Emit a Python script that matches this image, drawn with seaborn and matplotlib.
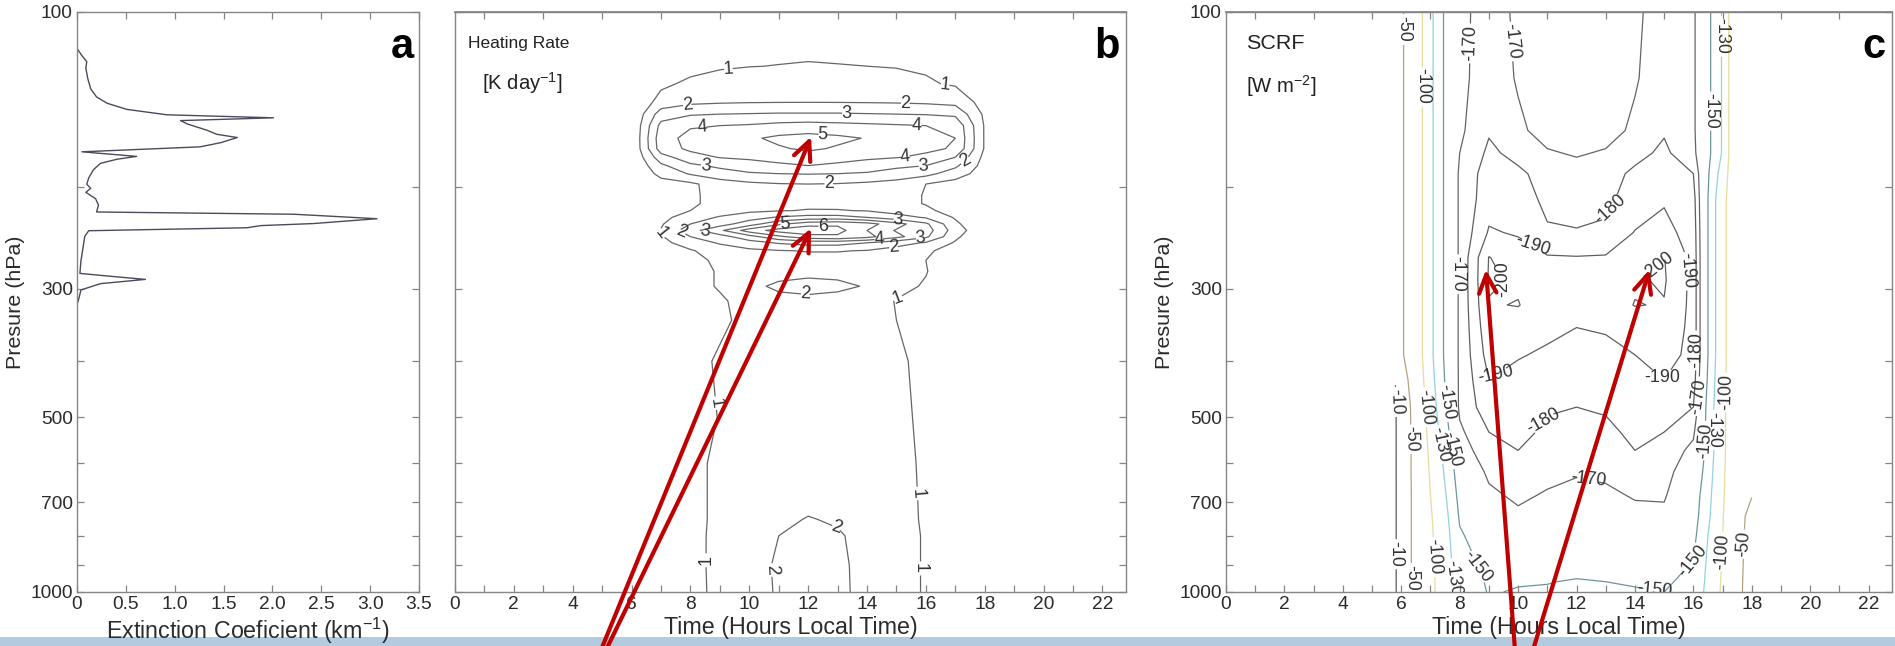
import numpy as np
import pandas as pd
import matplotlib
matplotlib.use("Agg")
import matplotlib.pyplot as plt
import seaborn as sns
from matplotlib import font_manager
from matplotlib.ticker import FixedLocator, FixedFormatter, NullLocator
from matplotlib.patches import Rectangle

# ---------------- data ----------------
# panel a: extinction coefficient profile (km^-1) vs pressure (hPa)
EXT_PRES = [115.6, 118.9, 121.8, 124.9, 130.2, 135.6, 140.1, 143.7, 147.2, 150.4,
            152.2, 153.9, 156.0, 159.9, 162.5, 164.6, 168.0, 170.8, 174.2, 177.4,
            179.4, 182.4, 186.9, 193.2, 198.1, 201.4, 204.6, 209.8, 215.2, 221.2,
            223.2, 227.2, 231.6, 233.5, 235.5, 238.3, 243.5, 255.9, 268.8, 282.3,
            285.5, 289.1, 294.0, 301.5, 311.6, 319.6]
EXT_VALS = [0.00, 0.05, 0.10, 0.09, 0.11, 0.14, 0.20, 0.31, 0.51, 0.92,
            2.01, 1.06, 1.13, 1.33, 1.43, 1.64, 1.47, 1.26, 0.05, 0.61,
            0.41, 0.24, 0.17, 0.12, 0.10, 0.14, 0.09, 0.19, 0.22, 0.20,
            2.22, 3.07, 2.42, 1.88, 1.74, 0.12, 0.08, 0.06, 0.04, 0.03,
            0.34, 0.70, 0.24, 0.04, 0.02, 0.00]

# panel b: heating rate (K/day), rows = pressure, columns = hour
B_HOURS = [5, 6, 7, 8, 9, 10, 11, 12, 13, 14, 15, 16, 17, 18, 19]
B_PRES = [100, 115, 124, 133, 143, 150, 157, 165, 172, 178, 184, 190, 198, 207, 214,
          220, 226, 232, 238, 244, 250, 258, 268, 280, 297, 315, 340, 400, 500, 600,
          700, 750, 800, 900, 1000]
B_HEAT = [
    [0, 0, 0.1, 0.2, 0.3, 0.4, 0.45, 0.5, 0.45, 0.4, 0.3, 0.2, 0.1, 0, 0],
    [0, 0, 0.3, 0.5, 0.6, 0.7, 0.8, 0.85, 0.8, 0.75, 0.7, 0.6, 0.4, 0.1, 0],
    [0, 0, 0.5, 0.7, 0.9, 0.98, 1.02, 1.05, 1.03, 1.0, 0.95, 0.9, 0.7, 0.2, 0],
    [0, 0, 0.8, 1.2, 1.4, 1.5, 1.55, 1.6, 1.55, 1.5, 1.4, 1.1, 0.9, 0.3, 0],
    [0, 0, 1.4, 1.8, 1.9, 1.95, 1.97, 1.98, 1.97, 1.95, 1.92, 1.85, 1.7, 0.6, 0],
    [0, 0, 2.5, 2.9, 3.0, 3.05, 3.1, 3.1, 3.1, 3.05, 3.0, 2.95, 2.8, 0.8, 0],
    [0, 0, 3.3, 3.9, 4.0, 4.1, 4.3, 4.4, 4.3, 4.2, 4.1, 4.0, 3.8, 0.9, 0],
    [0, 0, 3.6, 4.3, 4.5, 4.85, 5.2, 5.35, 5.2, 4.95, 4.6, 4.4, 4.0, 0.9, 0],
    [0, 0, 3.5, 4.2, 4.4, 4.6, 4.9, 5.15, 4.9, 4.6, 4.4, 4.2, 3.9, 0.9, 0],
    [0, 0, 2.6, 3.6, 4.05, 4.2, 4.4, 4.6, 4.4, 4.2, 4.05, 3.8, 3.0, 0.7, 0],
    [0, 0, 1.8, 2.8, 3.2, 3.5, 3.8, 4.0, 3.8, 3.5, 3.2, 3.0, 2.2, 0.6, 0],
    [0, 0, 1.3, 2.1, 2.6, 2.9, 3.0, 3.05, 3.0, 2.9, 2.6, 2.3, 1.5, 0.5, 0],
    [0, 0, 0.6, 0.8, 1.5, 1.8, 1.95, 2.0, 1.95, 1.8, 1.6, 1.0, 0.6, 0.1, 0],
    [0, 0, 0.4, 0.8, 1.4, 1.6, 1.7, 1.75, 1.7, 1.6, 1.3, 0.95, 0.2, 0, 0],
    [0, 0, 0.4, 0.8, 1.4, 1.6, 1.75, 1.8, 1.75, 1.65, 1.3, 0.95, 0.2, 0, 0],
    [0, 0, 0.4, 1.0, 1.5, 1.8, 1.95, 2.05, 2.05, 1.95, 1.6, 1.2, 0.6, 0, 0],
    [0, 0, 0.7, 1.5, 2.1, 2.6, 3.1, 3.4, 3.4, 3.0, 2.4, 1.9, 0.9, 0.1, 0],
    [0, 0, 0.9, 2.0, 2.6, 3.5, 4.8, 5.6, 5.8, 5.4, 4.4, 3.2, 1.2, 0.1, 0],
    [0, 0, 1.05, 2.6, 3.8, 5.5, 6.4, 6.8, 6.4, 5.0, 3.9, 3.5, 1.5, 0.2, 0],
    [0, 0, 0.9, 2.0, 2.6, 3.6, 4.8, 5.6, 5.8, 5.3, 4.3, 3.2, 1.2, 0.1, 0],
    [0, 0, 0.7, 1.5, 2.1, 2.6, 3.1, 3.4, 3.4, 3.0, 2.4, 1.9, 0.9, 0.1, 0],
    [0, 0, 0.4, 0.9, 1.5, 1.8, 1.95, 2.05, 2.05, 1.95, 1.6, 1.2, 0.5, 0, 0],
    [0, 0, 0.2, 0.7, 1.2, 1.5, 1.6, 1.65, 1.65, 1.6, 1.5, 1.0, 0.3, 0, 0],
    [0, 0, 0.2, 0.6, 1.1, 1.5, 1.7, 1.8, 1.8, 1.7, 1.5, 1.05, 0.3, 0, 0],
    [0, 0, 0.2, 0.6, 1.1, 1.8, 2.15, 2.25, 2.15, 1.95, 1.3, 0.9, 0.3, 0, 0],
    [0, 0, 0.2, 0.6, 0.85, 1.4, 1.75, 1.8, 1.75, 1.5, 0.95, 0.6, 0.2, 0, 0],
    [0, 0, 0.2, 0.5, 0.8, 1.3, 1.5, 1.55, 1.5, 1.35, 1.0, 0.6, 0.2, 0, 0],
    [0, 0, 0.2, 0.6, 1.15, 1.4, 1.5, 1.55, 1.5, 1.4, 1.2, 0.7, 0.2, 0, 0],
    [0, 0, 0.2, 0.5, 1.05, 1.4, 1.5, 1.55, 1.5, 1.4, 1.3, 0.75, 0.2, 0, 0],
    [0, 0, 0.2, 0.6, 1.3, 1.5, 1.6, 1.65, 1.6, 1.5, 1.4, 0.8, 0.2, 0, 0],
    [0, 0, 0.2, 0.6, 1.3, 1.5, 1.7, 1.8, 1.75, 1.6, 1.4, 0.85, 0.2, 0, 0],
    [0, 0, 0.2, 0.6, 1.3, 1.55, 1.8, 2.05, 1.9, 1.65, 1.45, 0.85, 0.2, 0, 0],
    [0, 0, 0.2, 0.6, 1.35, 1.6, 2.0, 2.3, 2.1, 1.7, 1.45, 0.9, 0.2, 0, 0],
    [0, 0, 0.2, 0.55, 1.4, 1.7, 2.1, 2.3, 2.2, 1.7, 1.45, 0.9, 0.2, 0, 0],
    [0, 0, 0.2, 0.5, 1.4, 1.6, 2.1, 2.4, 2.3, 1.6, 1.45, 0.9, 0.2, 0, 0],
]
B_LEVELS = [1, 2, 3, 4, 5, 6]

# panel c: SCRF (W m^-2), rows = pressure, columns = hour
C_HOURS = [5.8, 6.5, 7, 7.5, 8, 9, 10, 11, 12, 13, 14, 15, 16, 16.5, 17, 17.5, 18]
C_PRES = [100, 130, 160, 175, 190, 210, 240, 265, 290, 320, 350, 390, 430, 480, 530,
          570, 620, 680, 740, 800, 880, 960, 1000]
C_SCRF = [
    [-30, -80, -125, -153, -167, -175, -168, -160, -158, -160, -168, -175, -172, -155, -128, -62, -55],
    [-30, -80, -125, -153, -167, -176, -169, -162, -160, -162, -169, -176, -172, -155, -128, -62, -55],
    [-30, -80, -125, -153, -168, -179, -172, -166, -164, -166, -172, -179, -172, -155, -128, -62, -55],
    [-30, -80, -125, -153, -170, -182, -177, -171, -169, -171, -177, -182, -173, -155, -128, -62, -55],
    [-30, -80, -125, -153, -172, -185, -182, -176, -174, -176, -182, -186, -180, -152, -120, -64, -55],
    [-30, -80, -125, -153, -172, -186, -184, -178, -177, -178, -184, -189, -184, -150, -112, -65, -55],
    [-30, -80, -125, -153, -172, -191, -189, -181, -180.5, -181.5, -190.5, -193, -186, -150, -112, -65, -55],
    [-30, -80, -125, -153, -172, -200.3, -195, -191, -190.5, -191, -196, -200.3, -187, -150, -112, -65, -55],
    [-30, -80, -125, -153, -172, -201, -199, -195, -194, -195, -199, -201, -187, -150, -112, -65, -55],
    [-30, -80, -125, -153, -172, -199.5, -200.3, -196, -194, -196, -200.3, -199.5, -187, -150, -112, -65, -55],
    [-30, -80, -125, -153, -172, -197, -196, -193, -190, -191, -195, -197, -187, -150, -112, -65, -55],
    [-30, -80, -125, -153, -172, -194, -191, -188, -186, -187, -190, -194, -187, -150, -112, -65, -55],
    [-10.5, -75, -122, -151, -172, -190, -186, -184, -183, -184, -186, -190, -185, -148, -110, -66, -55],
    [-8, -65, -118, -148, -172, -186, -184, -181, -180, -181, -184, -185, -180, -145, -108, -68, -55],
    [-8, -64, -112, -143, -168, -180, -183, -178, -177, -178, -182, -180, -172, -145, -108, -68, -55],
    [-8, -63, -108, -138, -165, -176, -180, -176, -174, -175, -180, -177, -167, -145, -108, -68, -55],
    [-8, -63, -104, -133, -160, -172, -177, -173, -171, -172, -176, -173, -164, -142, -106, -69, -55],
    [-8, -62, -100, -128, -156, -168, -172, -169, -167, -168, -171, -171, -160, -138, -104, -70, -52],
    [-8, -62, -97, -124, -152, -163, -168, -166, -165, -165, -167, -168, -158, -135, -102, -68, -35],
    [-8, -62, -95, -121, -148, -160, -163, -162, -161, -161, -162, -162, -155, -130, -100, -68, -30],
    [-8, -62, -93, -119, -144, -155, -158, -157, -156, -156, -157, -156, -150, -127, -98, -68, -25],
    [-8, -62, -92, -118, -140, -152, -151, -150.5, -149, -150, -151, -152, -146, -125, -96, -68, -20],
    [-8, -62, -92, -118, -138, -151, -149, -148.5, -148, -148.5, -149, -150, -144, -124, -95, -68, -18],
]
C_LEVELS = [-200, -190, -180, -170, -150, -130, -100, -50, -10]

P_TICKS = [100, 200, 300, 400, 500, 600, 700, 800, 900, 1000]
P_LABELS = ["100", "", "300", "", "500", "", "700", "", "", "1000"]
EXT_TICKS = [0, 0.5, 1.0, 1.5, 2.0, 2.5, 3.0, 3.5]
EXT_LABELS = ["0", "0.5", "1.0", "1.5", "2.0", "2.5", "3.0", "3.5"]
HOUR_TICKS = list(range(0, 23))
HOUR_LABELS = [str(h) if h % 2 == 0 else "" for h in HOUR_TICKS]

# ---------------- style ----------------
sns.set_theme(style="ticks")
names = {f.name for f in font_manager.fontManager.ttflist}
NARROW = "Liberation Sans Narrow" in names
FAM = "Liberation Sans Narrow" if NARROW else "Liberation Sans"
k = 1.0 if NARROW else 0.86
plt.rcParams["font.family"] = [FAM, "DejaVu Sans"]
plt.rcParams["mathtext.fontset"] = "custom"
plt.rcParams["mathtext.rm"] = FAM
plt.rcParams["mathtext.it"] = FAM

TICK_FS = 16 * k
XLAB_FS = 19.5 * k
YLAB_FS = 18 * k
CL_FS = 15 * k
SPINE = "#858585"
TXT = "#2b2b2b"

fig = plt.figure(figsize=(18.95, 6.46), dpi=100)
W, H = 1895.0, 646.0
ax_a = fig.add_axes([77 / W, 54 / H, 342 / W, 580 / H])
ax_b = fig.add_axes([455 / W, 54 / H, 671 / W, 580 / H])
ax_c = fig.add_axes([1226 / W, 54 / H, 666 / W, 580 / H])


def style_axis(ax):
    for s in ax.spines.values():
        s.set_color(SPINE)
        s.set_linewidth(1.0)
        s.set_visible(True)
    ax.set_yscale("log")
    ax.set_ylim(1000, 100)
    ax.yaxis.set_major_locator(FixedLocator(P_TICKS))
    ax.yaxis.set_major_formatter(FixedFormatter(P_LABELS))
    ax.yaxis.set_minor_locator(NullLocator())
    ax.tick_params(direction="in", length=5, width=0.9, color=SPINE,
                   labelcolor=TXT, labelsize=TICK_FS, right=True, pad=3)
    ax.set_facecolor("white")


# ---------------- panel a ----------------
sns.lineplot(x=EXT_VALS, y=EXT_PRES, sort=False, estimator=None,
             color="#4a4a5c", lw=1.0, ax=ax_a)
style_axis(ax_a)
ax_a.set_xlim(0, 3.5)
ax_a.xaxis.set_major_locator(FixedLocator(EXT_TICKS))
ax_a.xaxis.set_major_formatter(FixedFormatter(EXT_LABELS))
ax_a.tick_params(axis="x", top=True)
ax_a.set_xlabel(r"Extinction Coeficient (km$^{\mathregular{-1}}$)", fontsize=XLAB_FS,
                color=TXT, labelpad=2)
ax_a.set_ylabel("Presure (hPa)", fontsize=YLAB_FS, color=TXT, labelpad=4)
ax_a.text(0.985, 0.975, "a", transform=ax_a.transAxes, ha="right", va="top",
          fontsize=30, fontweight="bold", color="black", family="Liberation Sans")


def hour_axis(ax):
    ax.set_xlim(0, 22.8)
    ax.xaxis.set_major_locator(FixedLocator(HOUR_TICKS))
    ax.xaxis.set_major_formatter(FixedFormatter(HOUR_LABELS))
    ax.tick_params(axis="x", top=False)
    sec = ax.secondary_xaxis("top")
    sec.set_xticks([1, 3, 5, 7, 9, 11, 13, 15, 17, 19, 21])
    sec.set_xticklabels([])
    sec.tick_params(direction="in", length=5, width=0.9, color=SPINE)
    sec.spines["top"].set_color(SPINE)
    ax.set_xlabel("Time (Hours Local Time)", fontsize=XLAB_FS, color=TXT, labelpad=2)


# ---------------- panel b ----------------
style_axis(ax_b)
cs_b = ax_b.contour(B_HOURS, B_PRES, np.array(B_HEAT), levels=B_LEVELS,
                    colors="#666666", linewidths=0.9)
B_LABEL_POS = [(9.3, 128), (16.65, 135), (7.9, 147.6), (13.3, 148.5), (15.3, 144.6),
               (8.4, 159.7), (12.5, 161), (15.7, 158.7), (8.5, 185), (15.3, 177.7),
               (15.9, 183.8), (12.7, 199), (17.4, 185),
               (7.0, 241), (7.7, 238), (8.5, 240), (11.2, 232), (12.5, 237), (14.4, 245),
               (15.05, 226), (15.8, 238), (14.9, 255),
               (11.9, 306), (15.1, 319), (8.86, 472), (15.7, 676), (12.9, 803),
               (8.3, 881), (11.1, 910), (16.0, 910)]
ax_b.clabel(cs_b, fmt="%d", fontsize=CL_FS, colors="#333333", inline=True,
            inline_spacing=2, manual=B_LABEL_POS)
ax_b.set_yticklabels([])
hour_axis(ax_b)
ax_b.text(0.02, 0.958, "Heating Rate", transform=ax_b.transAxes, ha="left", va="top",
          fontsize=14.5 * k, color="#222222")
ax_b.text(0.04, 0.9, r"[K day$^{\mathregular{-1}}$]", transform=ax_b.transAxes,
          ha="left", va="top", fontsize=17 * k, color="#222222")
ax_b.text(0.99, 0.975, "b", transform=ax_b.transAxes, ha="right", va="top",
          fontsize=30, fontweight="bold", color="black", family="Liberation Sans")

# ---------------- panel c ----------------
style_axis(ax_c)
C_COLORS = ["#5e5e5e", "#5e5e5e", "#5e5e5e", "#646464", "#6c959b", "#93d2de",
            "#e6dc9c", "#b3a27f", "#5a5a5a"]
cs_c = ax_c.contour(C_HOURS, C_PRES, np.array(C_SCRF), levels=C_LEVELS,
                    colors=C_COLORS, linewidths=0.9)
C_LABEL_POS = [(6.1, 107), (8.27, 113), (9.84, 112), (16.87, 110), (6.6, 134),
               (16.6, 148), (12.9, 208), (10.5, 250), (7.78, 283), (9.68, 276),
               (14.8, 276), (15.7, 279), (9.26, 427), (14.97, 421), (15.96, 383),
               (5.82, 470), (6.25, 545), (6.8, 480), (7.2, 560), (7.55, 470),
               (8.0, 560), (10.9, 511), (12.4, 632), (16.2, 460), (16.3, 547),
               (16.8, 525), (17.2, 453), (5.82, 860), (6.32, 945), (7.15, 870),
               (7.78, 945), (8.77, 883), (14.7, 905), (16.05, 910), (16.9, 850),
               (17.7, 826)]
ax_c.clabel(cs_c, fmt="%d", fontsize=CL_FS, colors="#333333", inline=True,
            inline_spacing=2, manual=C_LABEL_POS)
hour_axis(ax_c)
ax_c.set_ylabel("Presure (hPa)", fontsize=YLAB_FS, color=TXT, labelpad=4)
ax_c.text(0.03, 0.962, "SCRF", transform=ax_c.transAxes, ha="left", va="top",
          fontsize=18 * k, color="#222222")
ax_c.text(0.03, 0.895, r"[W m$^{\mathregular{-2}}$]", transform=ax_c.transAxes,
          ha="left", va="top", fontsize=17 * k, color="#222222")
ax_c.text(0.99, 0.975, "c", transform=ax_c.transAxes, ha="right", va="top",
          fontsize=30, fontweight="bold", color="black", family="Liberation Sans")

# ---------------- red arrows ----------------
ARROW = dict(arrowstyle="->,head_length=0.75,head_width=0.35", color="#c00000",
             lw=3, shrinkA=0, shrinkB=0, mutation_scale=18)
for ax, tip, tail in [(ax_b, (12.1, 164), (601, -4)), (ax_b, (12.1, 236), (606, -4)),
                      (ax_c, (8.9, 278), (1515, -4)), (ax_c, (14.5, 278), (1533, -4))]:
    ax.annotate("", xy=tip, xycoords="data", xytext=tail,
                textcoords="figure pixels", arrowprops=ARROW, annotation_clip=False,
                zorder=10)

# bottom light-blue band
fig.patches.append(Rectangle((0, 0), 1, 9 / H, transform=fig.transFigure,
                             facecolor="#b3cbde", edgecolor="none", zorder=-1))

fig.savefig("out.png", dpi=100)
